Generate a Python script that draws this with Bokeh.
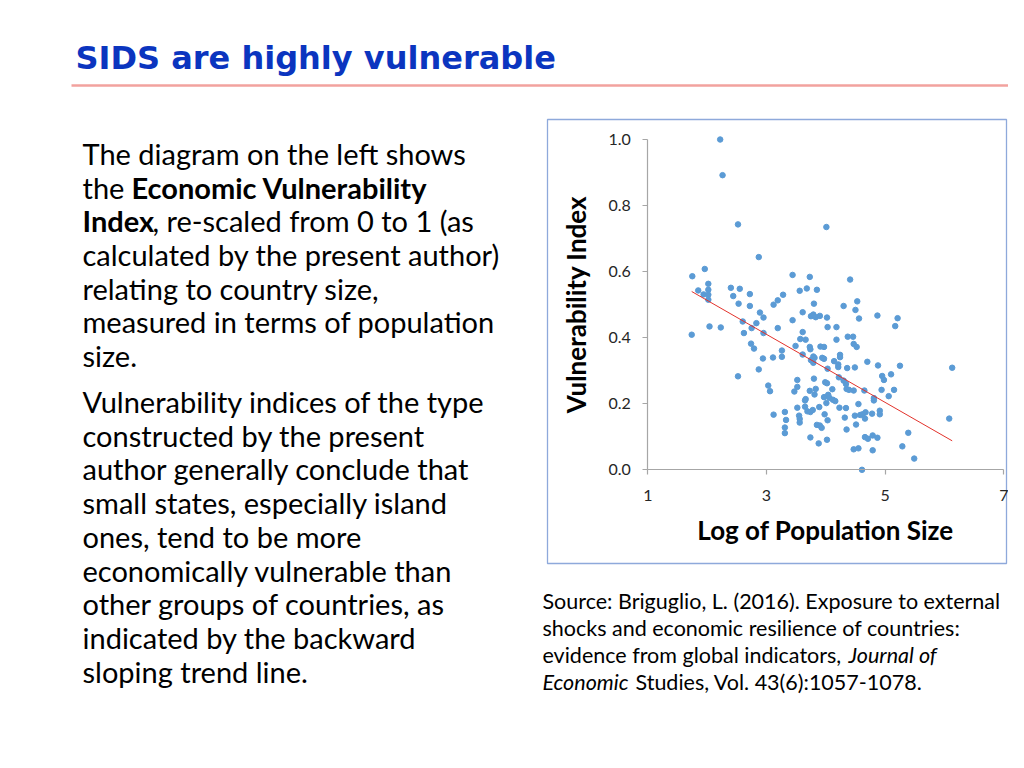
import numpy as np
from bokeh.plotting import figure
from bokeh.models import Range1d, LinearAxis, FixedTicker, NumeralTickFormatter
from bokeh.core.properties import value
from bokeh.embed import file_html
from bokeh.resources import INLINE

# ---------------- data ----------------
log_population = [
    2.22, 2.26, 2.52, 4.01, 2.87, 1.96, 1.75, 1.85, 1.94, 2.02,
    2.02, 2.02, 2.02, 2.04, 1.74, 2.23, 2.40, 2.44, 2.55, 2.53,
    2.72, 2.72, 2.60, 2.62, 2.75, 2.83, 2.89, 2.95, 2.95, 2.74,
    2.79, 2.94, 2.87, 2.52, 3.03, 3.06, 3.11, 3.12, 3.19, 3.28,
    3.19, 3.26, 3.26, 3.12, 3.31, 3.33, 3.31, 3.31, 3.44, 3.44,
    3.56, 3.49, 3.47, 3.52, 3.52, 3.52, 3.55, 3.56, 3.56, 3.61,
    3.61, 3.57, 3.66, 3.61, 3.68, 3.73, 3.85, 3.80, 3.75, 3.79,
    3.83, 3.90, 3.73, 3.74, 3.79, 3.81, 3.79, 3.75, 3.91, 3.97,
    3.94, 3.97, 4.02, 4.03, 4.03, 3.80, 3.83, 3.81, 3.73, 3.65,
    3.66, 3.65, 3.69, 3.74, 3.78, 3.89, 3.97, 3.99, 4.02, 4.04,
    4.06, 4.01, 3.98, 4.03, 3.85, 3.90, 3.93, 3.74, 3.88, 4.02,
    4.12, 4.16, 4.11, 4.14, 4.18, 4.18, 4.21, 4.21, 4.24, 4.24,
    4.22, 4.23, 4.30, 4.41, 4.36, 4.37, 4.46, 4.34, 4.35, 4.39,
    4.47, 4.34, 4.32, 4.35, 4.47, 4.52, 4.49, 4.50, 4.53, 4.56,
    4.49, 4.51, 4.55, 4.58, 4.62, 4.47, 4.55, 4.61, 4.65, 4.67,
    4.66, 4.70, 4.66, 4.71, 4.79, 4.78, 4.81, 4.81, 4.79, 4.87,
    4.88, 4.87, 4.91, 4.91, 4.94, 4.95, 4.98, 5.06, 5.10, 5.15,
    5.17, 5.21, 5.25, 5.29, 5.39, 5.49, 6.08, 6.13, 4.30,
]
vulnerability = [
    1.000, 0.892, 0.743, 0.735, 0.644, 0.608, 0.586, 0.543, 0.531, 0.563,
    0.545, 0.530, 0.515, 0.434, 0.409, 0.431, 0.551, 0.526, 0.548, 0.503,
    0.532, 0.496, 0.449, 0.414, 0.429, 0.444, 0.476, 0.461, 0.414, 0.382,
    0.367, 0.337, 0.304, 0.283, 0.255, 0.238, 0.340, 0.500, 0.513, 0.530,
    0.429, 0.361, 0.342, 0.167, 0.175, 0.151, 0.128, 0.111, 0.453, 0.590,
    0.542, 0.375, 0.237, 0.272, 0.251, 0.188, 0.164, 0.154, 0.143, 0.477,
    0.417, 0.396, 0.394, 0.349, 0.549, 0.584, 0.545, 0.503, 0.465, 0.470,
    0.462, 0.466, 0.372, 0.365, 0.343, 0.339, 0.324, 0.332, 0.373, 0.372,
    0.339, 0.336, 0.461, 0.432, 0.306, 0.276, 0.245, 0.228, 0.239, 0.210,
    0.214, 0.191, 0.177, 0.175, 0.181, 0.190, 0.220, 0.265, 0.262, 0.227,
    0.218, 0.202, 0.168, 0.150, 0.136, 0.134, 0.127, 0.098, 0.080, 0.091,
    0.212, 0.208, 0.244, 0.329, 0.394, 0.432, 0.319, 0.311, 0.348, 0.341,
    0.280, 0.188, 0.496, 0.576, 0.308, 0.403, 0.403, 0.260, 0.245, 0.242,
    0.240, 0.187, 0.158, 0.122, 0.381, 0.372, 0.310, 0.484, 0.510, 0.458,
    0.164, 0.137, 0.199, 0.166, 0.168, 0.062, 0.065, 0.000, 0.240, 0.174,
    0.155, 0.327, 0.099, 0.094, 0.104, 0.170, 0.210, 0.217, 0.059, 0.467,
    0.316, 0.097, 0.179, 0.168, 0.242, 0.284, 0.272, 0.223, 0.289, 0.242,
    0.435, 0.459, 0.315, 0.071, 0.112, 0.034, 0.155, 0.309, 0.270,
]

x_ticks = [1, 3, 5, 7]
y_ticks = [0.0, 0.2, 0.4, 0.6, 0.8, 1.0]
x_bounds = (1, 7)
y_bounds = (0, 1)

title_text = "SIDS are highly vulnerable"
x_label = "Log of Population Size"
y_label = "Vulnerability Index"

para1 = [
    "The diagram on the left shows",
    "the ",
    ", re-scaled from 0 to 1 (as",
    "calculated by the present author)",
    "relating to country size,",
    "measured in terms of population",
    "size.",
]
para1_bold = ["Economic Vulnerability", "Index"]
para2 = [
    "Vulnerability indices of the type",
    "constructed by the present",
    "author generally conclude that",
    "small states, especially island",
    "ones, tend to be more",
    "economically vulnerable than",
    "other groups of countries, as",
    "indicated by the backward",
    "sloping trend line.",
]
source_regular = [
    "Source: Briguglio, L.  (2016).  Exposure to external",
    "shocks and economic resilience of countries:",
    "evidence from global indicators, ",
    "Studies, Vol. 43(6):1057-1078.",
]
source_italic = ["Journal of", "Economic"]

# ---------------- layout (screen pixel coordinates) ----------------
OFF = 0
W, H = 1008, 752
AX_L, AX_R = 647.3, 1003.3   # screen x of x=1 and x=7
AX_B, AX_T = 469.3, 139.0    # screen y of y=0 and y=1

sx = (AX_R - AX_L) / (x_bounds[1] - x_bounds[0])
sy = (AX_B - AX_T) / (y_bounds[1] - y_bounds[0])
dx_start = x_bounds[0] - (AX_L - OFF) / sx
dx_end = dx_start + W / sx
dy_start = y_bounds[0] - ((H + OFF) - AX_B) / sy
dy_end = y_bounds[0] + (AX_B - OFF) / sy

p = figure(width=W, height=H, output_backend="svg", toolbar_location=None,
           x_range=Range1d(OFF, W + OFF), y_range=Range1d(H + OFF, OFF),
           x_axis_type=None, y_axis_type=None, min_border=0,
           outline_line_color=None, background_fill_color="white",
           border_fill_color="white")
p.extra_x_ranges = {"dx": Range1d(dx_start, dx_end)}
p.extra_y_ranges = {"dy": Range1d(dy_start, dy_end)}

BODY = value("Lato")

# title + rule
p.text(x=[75], y=[57], text=[title_text], text_font=value("DejaVu Sans"),
       text_font_style="bold", text_font_size="32px", text_color="#0B35BF",
       text_baseline="alphabetic", text_align="left")
p.segment(x0=[71], y0=[85], x1=[W + OFF], y1=[85], line_color="#F2A29E", line_width=2.5)

# left text
p1_y = [153, 187, 220, 254, 288, 321, 355]
p1_x = [82, 82, 152, 82, 82, 82, 82]
p.text(x=p1_x, y=p1_y, text=para1, text_font=BODY, text_font_size="29px",
       text_color="black", text_baseline="alphabetic")
p.text(x=[131, 82], y=[187, 220], text=para1_bold, text_font=BODY,
       text_font_style="bold", text_font_size="29px", text_color="black",
       text_baseline="alphabetic")
p2_y = [401, 435, 468, 502, 536, 570, 603, 637, 671]
p.text(x=[82] * len(para2), y=p2_y, text=para2, text_font=BODY, text_font_size="29px",
       text_color="black", text_baseline="alphabetic")

# source text
p.text(x=[542, 542, 542, 635], y=[600, 627, 654, 681], text=source_regular,
       text_font=BODY, text_font_size="21.5px", text_color="black",
       text_baseline="alphabetic")
p.text(x=[848, 542], y=[654, 681], text=source_italic, text_font=BODY,
       text_font_style="italic", text_font_size="21.5px", text_color="black",
       text_baseline="alphabetic")

# chart box
p.quad(left=[547], right=[1006], top=[119], bottom=[563], fill_color=None,
       line_color="#8EA9DB", line_width=1.3)

# axes
AX_COL = "#A6A6A6"
xaxis = LinearAxis(x_range_name="dx", y_range_name="dy", fixed_location=0,
                   ticker=FixedTicker(ticks=x_ticks), bounds=x_bounds,
                   axis_label=x_label)
yaxis = LinearAxis(x_range_name="dx", y_range_name="dy", fixed_location=1,
                   ticker=FixedTicker(ticks=y_ticks), bounds=y_bounds,
                   formatter=NumeralTickFormatter(format="0.0"),
                   axis_label=y_label)
for ax in (xaxis, yaxis):
    ax.axis_line_color = AX_COL
    ax.axis_line_width = 1.2
    ax.major_tick_line_color = AX_COL
    ax.major_tick_line_width = 1.2
    ax.major_tick_in = 0
    ax.major_tick_out = 5
    ax.minor_tick_line_color = None
    ax.major_label_text_font = "Lato"
    ax.major_label_text_font_size = "16px"
    ax.major_label_text_color = "#262626"
    ax.axis_label_text_font = "Lato"
    ax.axis_label_text_font_style = "bold"
    ax.axis_label_text_font_size = "26px"
    ax.axis_label_text_color = "black"
xaxis.major_label_standoff = 15
xaxis.axis_label_standoff = 10
yaxis.major_label_standoff = 12
yaxis.axis_label_standoff = 13
p.add_layout(xaxis, "below")
p.add_layout(yaxis, "left")

# scatter + linear trend
p.scatter(log_population, vulnerability, x_range_name="dx", y_range_name="dy",
          size=5.5, fill_color="#5B9BD5", line_color="#5B9BD5")
slope, intercept = np.polyfit(log_population, vulnerability, 1)
tx = np.array([min(log_population), max(log_population)])
p.line(tx, slope * tx + intercept, x_range_name="dx", y_range_name="dy",
       line_color="#E2322B", line_width=1)

open("out.html", "w").write(file_html(p, INLINE))
